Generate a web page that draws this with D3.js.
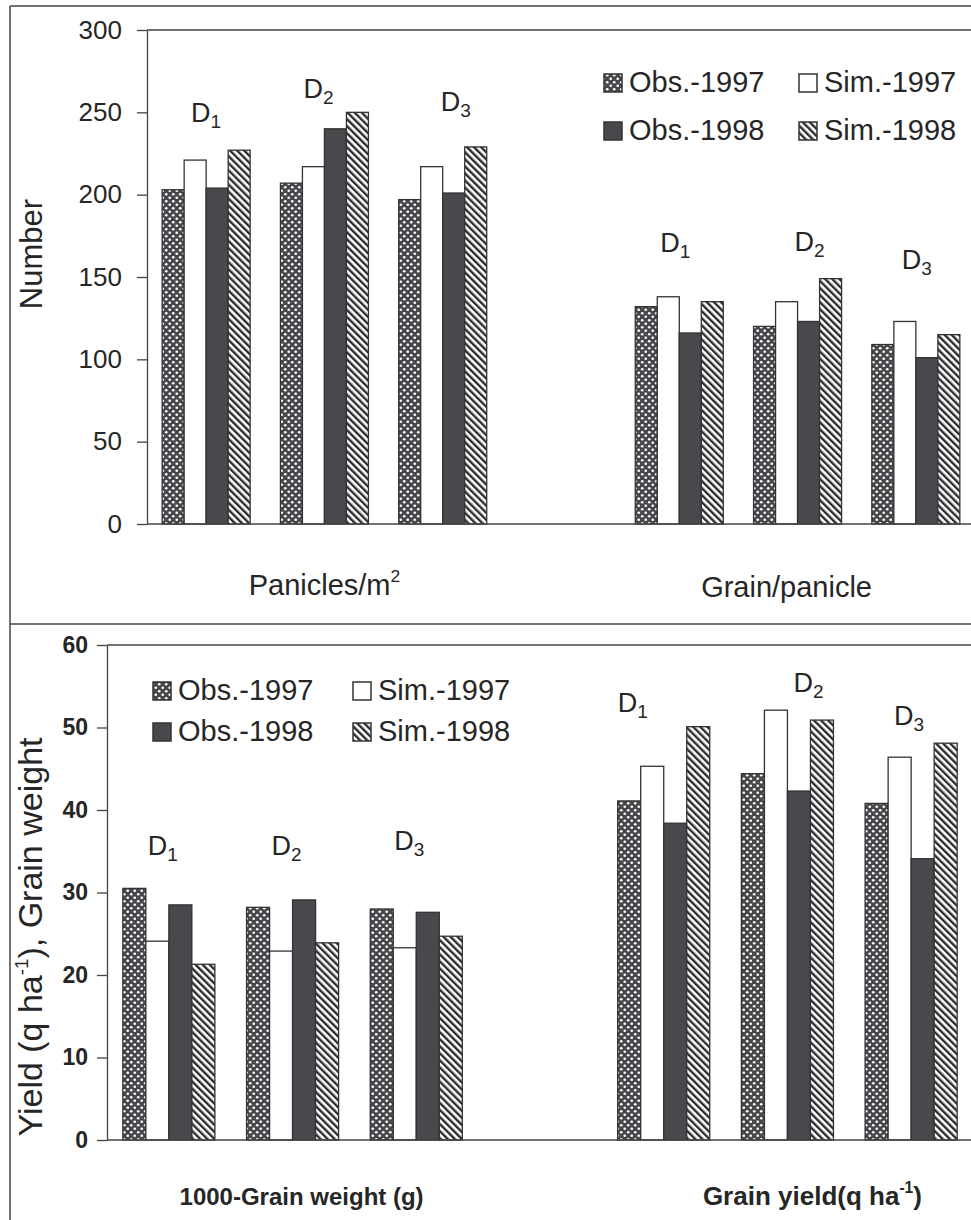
<!DOCTYPE html>
<html>
<head>
<meta charset="utf-8">
<script src="https://cdn.jsdelivr.net/npm/d3@7"></script>
<style>
  body { margin: 0; background: #fff; }
  svg { display: block; font-family: "Liberation Sans", Arial, sans-serif; }
</style>
</head>
<body>
<svg id="chart" width="971" height="1220"></svg>
<script>
// slots: three D levels for the first trait, an empty slot, three for the second trait
const slots = [0, 1, 2, 3, 4, 5, 6];
const slotLabels = ["1", "2", "3", null, "1", "2", "3"];
const seriesNames = ["Obs.-1997", "Sim.-1997", "Obs.-1998", "Sim.-1998"];

// top panel: Panicles/m2 and Grain/panicle
const topObs97 = [203, 207, 197, null, 132, 120, 109];
const topSim97 = [221, 217, 217, null, 138, 135, 123];
const topObs98 = [204, 240, 201, null, 116, 123, 101];
const topSim98 = [227, 250, 229, null, 135, 149, 115];
const topTicks = [0, 50, 100, 150, 200, 250, 300];
const topLabelY = [244, 259, 251, null, 165, 166, 155];
const topLabelDx = [0, -6, 13, 0, -4, 12, 1];

// bottom panel: 1000-grain weight and grain yield
const botObs97 = [30.5, 28.2, 28.0, null, 41.1, 44.4, 40.8];
const botSim97 = [24.1, 22.9, 23.3, null, 45.3, 52.1, 46.4];
const botObs98 = [28.5, 29.1, 27.6, null, 38.4, 42.3, 34.1];
const botSim98 = [21.3, 23.9, 24.7, null, 50.1, 50.9, 48.1];
const botTicks = [0, 10, 20, 30, 40, 50, 60];
const botLabelY = [34.5, 34.5, 35.2, null, 51.9, 54.3, 50.3];
const botLabelDx = [-6, -6, -7, 0, -31, 21, -2];

const ink = "#262626";
const svg = d3.select("#chart");

// fill patterns
const defs = svg.append("defs");
const dots = defs.append("pattern").attr("id", "dots")
  .attr("patternUnits", "userSpaceOnUse").attr("width", 7).attr("height", 7);
dots.append("rect").attr("width", 7).attr("height", 7).attr("fill", "#48484c");
dots.append("circle").attr("cx", 1.75).attr("cy", 1.75).attr("r", 1.35).attr("fill", "#fff");
dots.append("circle").attr("cx", 5.25).attr("cy", 5.25).attr("r", 1.35).attr("fill", "#fff");

const stripes = defs.append("pattern").attr("id", "stripes")
  .attr("patternUnits", "userSpaceOnUse").attr("width", 5).attr("height", 5)
  .attr("patternTransform", "rotate(-45)");
stripes.append("rect").attr("width", 5).attr("height", 5).attr("fill", "#fff");
stripes.append("rect").attr("width", 2.4).attr("height", 5).attr("fill", "#2c2c2c");

const fills = ["url(#dots)", "#fff", "#48484d", "url(#stripes)"];

// outer frame of the scanned figure
svg.append("g").attr("stroke", "#444").attr("stroke-width", 1.5)
  .selectAll("line")
  .data([[10, 6, 971, 6], [10, 6, 10, 1220], [10, 624, 971, 624]])
  .join("line")
  .attr("x1", d => d[0]).attr("y1", d => d[1]).attr("x2", d => d[2]).attr("y2", d => d[3]);

function panel(cfg) {
  const g = svg.append("g");
  const x = d3.scaleBand().domain(slots).range([cfg.left, cfg.right])
    .paddingInner(0.256).paddingOuter(0.128);
  const xs = d3.scaleBand().domain(d3.range(4)).range([0, x.bandwidth()]);
  const y = d3.scaleLinear().domain([0, cfg.max]).range([cfg.bottom, cfg.top]);

  // plot area top and baseline
  g.append("line").attr("x1", cfg.left).attr("x2", 971)
    .attr("y1", y(cfg.max)).attr("y2", y(cfg.max)).attr("stroke", "#444").attr("stroke-width", 1.3);

  const rows = slots.filter(s => cfg.series[0][s] != null);
  cfg.series.forEach((vals, k) => {
    g.append("g").selectAll("rect")
      .data(rows)
      .join("rect")
      .attr("x", s => x(s) + xs(k))
      .attr("y", s => y(vals[s]))
      .attr("width", xs.bandwidth())
      .attr("height", s => y(0) - y(vals[s]))
      .attr("fill", fills[k])
      .attr("stroke", "#333").attr("stroke-width", 1.3);
  });

  g.append("line").attr("x1", cfg.left).attr("x2", 971)
    .attr("y1", y(0)).attr("y2", y(0)).attr("stroke", "#444").attr("stroke-width", 1.3);

  const ax = g.append("g").attr("transform", `translate(${cfg.left},0)`)
    .call(d3.axisLeft(y).tickValues(cfg.ticks).tickSize(10).tickSizeOuter(0)
      .tickPadding(cfg.tickPad).tickFormat(d3.format("d")));
  ax.selectAll("path, line").attr("stroke", "#444").attr("stroke-width", 1.3);
  ax.selectAll("text").attr("fill", ink).style("font-size", cfg.tickSize + "px")
    .style("font-weight", cfg.tickWeight).style("font-family", "Liberation Sans, Arial, sans-serif");

  // D labels
  const dl = g.append("g").attr("fill", ink).style("font-size", "27px");
  rows.forEach(s => {
    const t = dl.append("text").attr("text-anchor", "middle")
      .attr("x", x(s) + x.bandwidth() / 2 + cfg.labelDx[s])
      .attr("y", y(cfg.labelY[s]));
    t.append("tspan").text("D");
    t.append("tspan").attr("dy", 6).style("font-size", "19px").text(slotLabels[s]);
  });

  // category titles under each group of three
  cfg.titles.forEach(tt => {
    const t = g.append("text").attr("text-anchor", "middle").attr("fill", ink)
      .attr("x", x(tt.slot) + x.bandwidth() / 2 + tt.dx).attr("y", tt.y)
      .style("font-size", tt.size + "px").style("font-weight", tt.weight);
    t.append("tspan").text(tt.text);
    if (tt.sup) {
      t.append("tspan").attr("dy", -tt.size * 0.45).style("font-size", (tt.size * 0.6) + "px").text(tt.sup);
      if (tt.after) t.append("tspan").attr("dy", tt.size * 0.45).text(tt.after);
    }
  });

  // y title
  const yt = g.append("text").attr("text-anchor", "middle").attr("fill", ink)
    .attr("transform", `translate(${cfg.yTitle.x},${cfg.yTitle.y}) rotate(-90)`)
    .style("font-size", cfg.yTitle.size + "px");
  yt.append("tspan").text(cfg.yTitle.parts[0]);
  if (cfg.yTitle.parts.length > 1) {
    yt.append("tspan").attr("dy", -cfg.yTitle.size * 0.4).style("font-size", (cfg.yTitle.size * 0.55) + "px").text(cfg.yTitle.parts[1]);
    yt.append("tspan").attr("dy", cfg.yTitle.size * 0.4).text(cfg.yTitle.parts[2]);
  }

  // legend, two columns by two rows
  const lg = g.append("g");
  seriesNames.forEach((name, k) => {
    const lx = cfg.legend.cols[k % 2], ly = cfg.legend.rows[Math.floor(k / 2)];
    lg.append("rect").attr("x", lx).attr("y", ly).attr("width", cfg.legend.box).attr("height", cfg.legend.box)
      .attr("fill", fills[k]).attr("stroke", "#333").attr("stroke-width", 1.5);
    lg.append("text").attr("x", lx + cfg.legend.box + 7).attr("y", ly + cfg.legend.box)
      .attr("fill", ink).style("font-size", "29px").text(name);
  });
}

panel({
  left: 147, right: 975, top: 30, bottom: 524, max: 300,
  series: [topObs97, topSim97, topObs98, topSim98],
  ticks: topTicks, tickPad: 15, tickSize: 26, tickWeight: "normal",
  labelY: topLabelY, labelDx: topLabelDx,
  titles: [
    { slot: 1, dx: 0, y: 595, size: 29, weight: "normal", text: "Panicles/m", sup: "2" },
    { slot: 5, dx: -11, y: 597, size: 29, weight: "normal", text: "Grain/panicle" }
  ],
  yTitle: { x: 42, y: 254, size: 31, parts: ["Number"] },
  legend: { cols: [604, 799], rows: [74, 122], box: 18 }
});

panel({
  left: 107, right: 973, top: 645, bottom: 1140, max: 60,
  series: [botObs97, botSim97, botObs98, botSim98],
  ticks: botTicks, tickPad: 9, tickSize: 23, tickWeight: "bold",
  labelY: botLabelY, labelDx: botLabelDx,
  titles: [
    { slot: 1, dx: 9, y: 1205, size: 24, weight: "bold", text: "1000-Grain weight (g)" },
    { slot: 5, dx: 25, y: 1205, size: 26, weight: "bold", text: "Grain yield(q ha", sup: "-1", after: ")" }
  ],
  yTitle: { x: 42, y: 937, size: 34, parts: ["Yield (q ha", "-1", "), Grain weight"] },
  legend: { cols: [153, 353], rows: [682, 723], box: 18 }
});
</script>
</body>
</html>
